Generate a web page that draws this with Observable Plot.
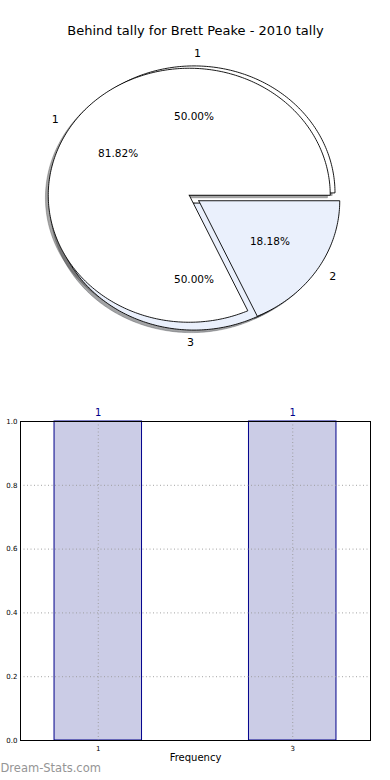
<!DOCTYPE html>
<html><head><meta charset="utf-8">
<script src="https://cdn.jsdelivr.net/npm/d3@7"></script>
<script src="https://cdn.jsdelivr.net/npm/@observablehq/plot@0.6"></script>
<style>body{margin:0;background:#fff;font-family:"DejaVu Sans",sans-serif} #chart svg{display:block}</style>
</head><body><div id="chart"></div>
<script>
const title = "Behind tally for Brett Peake - 2010 tally";
const pieALabels = ["1", "2"];
const pieAValues = [9, 2];
const pieBLabels = ["1", "3"];
const pieBValues = [1, 1];
const sliceColors = ["#ffffff", "#eaf0fc"];
const barCategories = [1, 3];
const barValues = [1, 1];
const yTicks = [0, 0.2, 0.4, 0.6, 0.8, 1.0];
const xLabel = "Frequency";
const watermark = "Dream-Stats.com";
const explode = 0.04;

function wedges(values, labels) {
  const total = d3.sum(values);
  let cum = 0;
  return values.map((v, i) => {
    const f = v / total;
    const t1 = cum * 2 * Math.PI, t2 = (cum + f) * 2 * Math.PI;
    cum += f;
    const tm = (t1 + t2) / 2;
    const cx = explode * Math.cos(tm), cy = explode * Math.sin(tm);
    const pts = [{x: cx, y: cy}];
    const n = Math.max(2, Math.ceil((t2 - t1) / (Math.PI / 180)));
    for (let k = 0; k <= n; k++) {
      const t = t1 + (t2 - t1) * k / n;
      pts.push({x: cx + Math.cos(t), y: cy + Math.sin(t)});
    }
    pts.push({x: cx, y: cy});
    const c = d3.rgb(sliceColors[i]);
    return {
      label: labels[i], pct: (f * 100).toFixed(2) + "%", color: sliceColors[i],
      shadow: d3.rgb(c.r * 0.3, c.g * 0.3, c.b * 0.3).formatHex(),
      pts,
      lx: cx + 1.1 * Math.cos(tm), ly: cy + 1.1 * Math.sin(tm),
      px: cx + 0.6 * Math.cos(tm), py: cy + 0.6 * Math.sin(tm)
    };
  });
}

const wA = wedges(pieAValues, pieALabels);
const wB = wedges(pieBValues, pieBLabels);
const all = [...wB, ...wA];

const W = 390, H1 = 380;
const cxPx = 193.5, cyPx = 197.5, rx = 141, ry = 127;

const pieMarks = [];
for (const w of all) {
  pieMarks.push(Plot.line(w.pts, {x: d => d.x - 0.02, y: d => d.y - 0.02, fill: w.shadow, fillOpacity: 0.5, stroke: w.shadow, strokeOpacity: 0.35, strokeWidth: 1, curve: "linear"}));
}
for (const w of all) {
  pieMarks.push(Plot.line(w.pts, {x: "x", y: "y", fill: w.color, stroke: "black", strokeWidth: 0.9, curve: "linear"}));
}
pieMarks.push(Plot.text(all.filter(d => d.lx > 0), {x: "lx", y: "ly", text: "label", textAnchor: "start", fontSize: 11, fill: "black"}));
pieMarks.push(Plot.text(all.filter(d => d.lx <= 0), {x: "lx", y: "ly", text: "label", textAnchor: "end", fontSize: 11, fill: "black"}));
pieMarks.push(Plot.text(all, {x: "px", y: "py", text: "pct", fontSize: 10.5, fill: "black"}));
pieMarks.push(Plot.text([title], {frameAnchor: "top", lineAnchor: "middle", dy: 30, text: d => d, fontSize: 13, fill: "black"}));

const pie = Plot.plot({
  width: W, height: H1,
  margin: 0,
  x: {domain: [-cxPx / rx, (W - cxPx) / rx], axis: null},
  y: {domain: [-(H1 - cyPx) / ry, cyPx / ry], axis: null},
  style: {fontFamily: "DejaVu Sans", background: "white"},
  marks: pieMarks
});

const bars = barCategories.map((c, i) => ({c, v: barValues[i]}));
const bar = Plot.plot({
  width: W, height: 400,
  marginTop: 41, marginBottom: 40, marginLeft: 20, marginRight: 20,
  x: {domain: [0.2, 3.8], axis: null},
  y: {domain: [0, 1], axis: null},
  style: {fontFamily: "DejaVu Sans", background: "white"},
  marks: [
    Plot.rect(bars, {x1: d => d.c - 0.45, x2: d => d.c + 0.45, y1: 0, y2: "v", fill: "#cbcce6", stroke: "#00008b", strokeWidth: 1}),
    Plot.gridY(yTicks, {stroke: "#999", strokeOpacity: 0.9, strokeDasharray: "1,2.5"}),
    Plot.gridX(barCategories, {stroke: "#999", strokeOpacity: 0.9, strokeDasharray: "1,2.5"}),
    Plot.axisY(yTicks, {tickFormat: d => d.toFixed(1), fontSize: 7, tickSize: 0, tickPadding: 3, label: null, color: "black"}),
    Plot.axisX(barCategories, {tickFormat: d => String(d), fontSize: 7, tickSize: 0, tickPadding: 6, label: null, color: "black"}),
    Plot.frame({stroke: "black", strokeWidth: 1}),
    Plot.text(bars, {x: "c", y: "v", text: d => String(d.v), dy: -9, fill: "#00008b", fontSize: 10}),
    Plot.text([xLabel], {frameAnchor: "bottom", dy: 20, text: d => d, fontSize: 10, fill: "black"}),
    Plot.text([watermark], {frameAnchor: "bottom-left", dx: -20, dy: 31, text: d => d, textAnchor: "start", fontSize: 11.5, fill: "#959595"})
  ]
});

document.getElementById("chart").append(pie, bar);
</script>
</body></html>
